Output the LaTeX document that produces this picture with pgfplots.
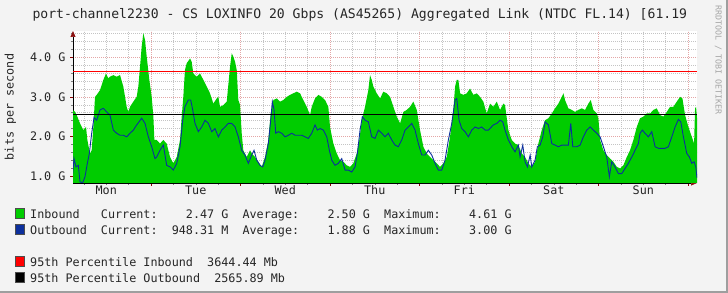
\documentclass[border=0pt]{standalone}
\usepackage{pgfplots}
\pgfplotsset{compat=1.18}
\usepackage{pgfplotstable}
\usepackage{fontspec}
\setmainfont{DejaVu Sans Mono}
\usetikzlibrary{arrows.meta}
\definecolor{bg}{HTML}{F3F3F3}
\definecolor{inb}{HTML}{00CC00}
\definecolor{outb}{HTML}{0C2F9C}
\definecolor{mgrid}{HTML}{E4A6A6}
\definecolor{ngrid}{HTML}{C4C4C4}
\definecolor{arrowred}{HTML}{8B1010}

\pgfplotstableread{
h v
3.00 2.67
3.62 2.62
4.07 2.54
4.96 2.33
5.85 2.16
6.57 2.24
6.93 1.91
7.64 1.57
8.09 1.65
8.54 2.24
8.98 3.00
9.43 3.05
10.32 3.17
11.22 3.43
11.93 3.59
12.56 3.47
13.00 3.51
13.90 3.55
14.79 3.51
15.69 3.55
16.58 3.26
17.47 2.75
17.92 2.62
18.37 2.75
19.26 2.88
20.15 3.00
20.60 3.26
21.05 3.76
21.50 4.27
21.94 4.61
22.39 4.44
22.84 4.02
23.55 3.43
24.18 3.00
24.63 2.50
24.90 1.91
25.53 1.91
26.41 1.82
27.30 1.91
28.20 1.82
28.64 1.65
29.10 1.48
29.98 1.32
30.90 1.48
31.78 1.91
32.23 2.50
32.66 3.00
33.10 3.68
33.57 3.85
34.46 3.97
34.90 3.89
35.34 3.59
36.24 3.51
37.14 3.59
38.03 3.43
38.94 3.26
39.82 3.09
40.71 2.83
41.62 2.96
42.05 3.00
42.50 2.75
43.39 2.79
44.30 2.88
45.19 3.76
45.64 4.10
46.07 4.02
46.53 3.89
46.98 3.68
47.41 2.92
47.87 2.80
48.32 2.08
48.75 1.65
49.66 1.48
50.55 1.65
51.00 1.57
51.89 1.48
52.78 1.36
53.69 1.23
54.57 1.48
55.46 1.91
56.10 2.58
56.80 2.92
57.71 2.96
58.60 2.88
59.48 2.92
60.39 3.00
61.28 3.05
62.16 3.09
63.07 3.13
63.96 3.09
64.84 2.92
65.75 2.75
66.64 2.54
67.10 2.75
67.98 2.96
68.87 3.05
69.78 3.00
70.66 2.92
71.55 2.75
72.00 2.24
72.89 1.82
73.80 1.57
74.68 1.40
75.57 1.36
76.48 1.27
77.37 1.23
78.25 1.32
79.16 1.57
79.86 1.91
80.51 2.41
81.39 2.75
82.27 3.17
82.73 3.55
83.18 3.43
83.62 3.26
84.53 3.09
85.41 2.96
86.30 3.13
87.21 3.09
88.09 3.00
88.98 2.75
89.89 2.50
90.78 2.33
91.66 2.62
92.57 2.67
93.46 2.75
94.34 2.88
95.25 2.67
96.14 2.16
97.02 1.74
97.93 1.57
98.82 1.48
99.71 1.40
100.62 1.32
101.50 1.23
102.39 1.32
103.30 1.48
104.18 1.99
105.07 2.67
105.53 3.26
105.98 3.43
106.41 3.43
106.87 3.09
107.75 3.05
108.66 3.09
109.55 3.21
110.43 3.05
111.34 3.09
112.23 3.00
113.11 2.88
114.02 2.58
114.91 2.83
115.79 2.75
116.71 2.88
117.59 2.67
118.48 2.83
118.93 2.79
119.82 2.16
120.73 1.91
121.61 1.82
122.50 1.78
123.41 1.57
124.30 1.48
125.18 1.32
126.09 1.23
126.98 1.36
127.86 1.82
128.77 2.16
129.66 2.41
130.55 2.46
131.46 2.58
132.34 2.71
133.23 2.83
134.14 3.00
134.59 3.09
135.02 2.92
135.91 2.71
136.82 2.67
137.70 2.62
138.59 2.67
139.50 2.71
140.39 2.67
141.27 2.83
141.91 2.92
142.61 2.67
143.52 2.58
143.95 2.46
144.41 1.91
145.29 1.65
146.20 1.53
147.09 1.44
147.98 1.36
148.89 1.23
149.77 1.19
150.66 1.27
151.57 1.48
152.45 1.65
153.34 1.91
154.25 2.24
155.13 2.46
156.02 2.50
156.93 2.58
157.82 2.58
158.70 2.67
159.61 2.71
160.50 2.54
161.38 2.50
162.30 2.62
163.18 2.75
164.07 2.75
164.98 2.88
165.86 3.00
166.49 2.96
167.20 2.54
168.09 2.24
169.00 1.99
169.62 1.82
169.88 2.71
170.15 2.75
170.40 2.47
}\inbound

\pgfplotstableread{
h v
3.00 1.06
3.35 1.44
3.89 1.23
4.51 1.27
4.96 0.85
5.68 0.83
6.30 0.98
6.93 1.32
7.46 1.57
8.09 2.08
8.72 2.48
9.43 2.41
10.32 2.67
11.22 2.71
12.11 2.62
13.00 2.54
13.90 2.16
14.79 2.08
15.69 2.03
16.58 2.03
17.47 1.99
18.37 2.08
19.26 2.16
20.15 2.29
21.50 2.46
22.39 2.33
23.28 1.99
24.18 1.74
25.07 1.44
25.53 1.48
26.41 1.65
27.30 1.78
28.20 1.27
29.10 1.23
29.98 1.15
30.90 1.32
31.78 1.74
32.50 2.41
33.10 2.75
34.00 2.92
34.64 2.92
35.18 2.67
35.80 2.33
36.69 2.12
37.60 2.24
38.48 2.41
39.37 2.33
40.28 2.12
41.16 2.20
42.05 1.99
42.96 2.16
43.85 2.24
44.73 2.33
45.64 2.33
46.53 2.24
47.41 1.99
48.32 1.65
49.21 1.53
50.09 1.32
51.00 1.53
51.62 1.65
52.35 1.40
53.23 1.27
53.95 1.23
54.57 1.40
55.46 1.82
56.10 2.41
56.53 2.88
56.99 2.67
57.44 2.08
58.14 2.12
59.05 2.08
59.94 1.99
60.82 2.03
61.73 2.08
62.62 2.03
63.50 2.03
64.41 2.03
65.30 1.99
66.18 1.95
67.10 2.08
67.98 2.29
68.60 2.16
69.32 2.20
70.21 2.16
71.12 1.99
71.82 1.65
72.46 1.40
73.34 1.27
74.23 1.32
75.14 1.44
76.03 1.15
76.91 1.15
77.82 1.10
78.71 1.23
79.33 1.57
80.05 2.16
80.66 2.50
81.39 2.41
82.27 2.37
83.18 1.99
84.07 1.95
84.96 2.16
85.87 2.08
86.75 1.99
87.64 2.08
88.55 1.91
89.43 1.78
90.32 1.74
91.23 1.91
92.12 2.16
93.00 2.24
93.91 2.33
94.80 2.16
95.68 1.82
96.59 1.53
97.48 1.53
98.36 1.65
99.27 1.53
100.16 1.32
101.05 1.15
101.96 1.15
102.84 1.40
103.73 1.91
104.64 2.33
105.53 2.92
105.98 2.96
106.60 2.41
107.32 2.20
108.21 2.12
109.09 1.99
110.00 2.16
110.89 2.24
111.77 2.20
112.68 2.24
113.57 2.16
114.46 2.16
115.79 2.29
116.71 2.33
117.59 2.41
118.31 2.37
118.93 2.16
119.82 1.91
120.73 1.74
121.61 1.61
122.50 1.78
122.96 1.48
123.68 1.78
124.30 1.36
124.93 1.23
125.66 1.53
126.09 1.23
126.98 1.40
127.60 1.74
128.32 1.78
129.05 1.99
129.66 2.37
130.55 2.29
131.46 1.82
132.34 1.78
133.23 1.74
134.14 1.78
135.02 1.78
135.91 1.78
136.55 2.33
137.09 1.74
138.16 1.74
139.05 1.78
139.93 1.99
140.84 2.16
141.73 2.24
142.61 2.16
143.52 2.08
144.41 1.99
145.29 1.74
146.20 1.48
146.90 0.98
147.54 1.36
148.43 1.23
149.32 1.06
150.23 1.06
151.11 1.19
152.00 1.32
152.91 1.48
153.80 1.65
154.68 1.82
155.13 2.08
155.75 2.16
156.47 2.08
157.36 1.99
158.27 2.12
159.16 1.74
160.05 1.70
160.96 1.70
161.85 1.70
162.73 1.74
163.64 1.99
164.53 2.24
165.41 2.43
166.05 2.37
166.75 1.99
167.66 1.57
168.36 1.48
169.00 1.32
169.62 1.36
170.07 1.23
170.40 0.95
}\outbound

\newcommand{\lf}{\fontsize{11.76bp}{14bp}\selectfont}

\begin{document}
\begin{tikzpicture}
\useasboundingbox (0,0) rectangle (728bp,293bp);
\clip (0,0) rectangle (728bp,293bp);
\fill[bg] (0,0) rectangle (728bp,293bp);
\draw[color=black!38, line width=2bp] (0,1bp) -- (727bp,1bp) -- (727bp,293bp);

\begin{axis}[
  at={(73bp,110bp)}, anchor=south west,
  scale only axis, width=624bp, height=152bp,
  xmin=3.08, xmax=170.4, ymin=0.823, ymax=4.665,
  axis background/.style={fill=white},
  axis x line*=bottom, axis y line*=left,
  x axis line style={line width=0.7bp, black, -{Triangle[length=6bp,width=5bp,color=arrowred]}},
  y axis line style={line width=0.7bp, black, -{Triangle[length=6bp,width=5bp,color=arrowred]}},
  xtick={24,48,72,96,120,144,168}, xticklabels={},
  minor xtick={6,12,18,30,36,42,54,60,66,78,84,90,102,108,114,126,132,138,150,156,162},
  extra x ticks={12,36,60,84,108,132,156},
  extra x tick labels={Mon,Tue,Wed,Thu,Fri,Sat,Sun},
  extra x tick style={grid=none, major tick length=0pt},
  ytick={1,2,3,4}, yticklabels={1.0 G,2.0 G,3.0 G,4.0 G},
  minor ytick={1.2,1.4,1.6,1.8,2.2,2.4,2.6,2.8,3.2,3.4,3.6,3.8,4.2,4.4,4.6},
  grid=both,
  major grid style={mgrid, dash pattern=on 1bp off 1bp, line width=0.5bp},
  minor grid style={ngrid, dash pattern=on 1bp off 1bp, line width=0.5bp},
  tick align=outside,
  major tick length=3bp, minor tick length=2bp,
  major tick style={draw=red!55!black, line width=0.5bp},
  minor tick style={draw=gray, line width=0.5bp},
  tick label style={font=\lf, text=black!85},
  xticklabel style={yshift=1bp},
  yticklabel style={xshift=-1bp},
  clip=true,
]
\addplot[draw=none, fill=inb] table[x=h, y=v] {\inbound} \closedcycle;
\addplot[outb, line width=0.9bp] table[x=h, y=v] {\outbound};
\addplot[red, line width=1bp] coordinates {(3.08,3.64444) (170.4,3.64444)};
\addplot[black, line width=1bp] coordinates {(3.08,2.56589) (170.4,2.56589)};
\end{axis}

\node[anchor=base west, inner sep=0, text=black!85] at (32.3bp,274.5bp) {\fontsize{13.1bp}{15bp}\selectfont port-channel2230 - CS LOXINFO 20 Gbps (AS45265) Aggregated Link (NTDC FL.14) [61.19};
\node[rotate=90, inner sep=0, text=black!85] at (10.5bp,186bp) {\lf bits per second};
\node[rotate=-90, inner sep=0, text=black!35] at (718.3bp,233bp) {\fontsize{8.3bp}{9bp}\selectfont RRDTOOL / TOBI OETIKER};

\filldraw[fill=inb, draw=black!70, line width=0.4bp] (15bp,74.7bp) rectangle (24bp,84.7bp);
\filldraw[fill=outb, draw=black!70, line width=0.4bp] (15bp,58.7bp) rectangle (24bp,68.7bp);
\filldraw[fill=red, draw=black!70, line width=0.4bp] (15bp,26.7bp) rectangle (24bp,36.7bp);
\filldraw[fill=black, draw=black!70, line width=0.4bp] (15bp,10.7bp) rectangle (24bp,20.7bp);

\node[anchor=base west, inner sep=0, text=black!85] at (30bp,74.7bp) {\lf Inbound\ \ \ Current:\ \ \ \ 2.47 G\ \ Average:\ \ \ \ 2.50 G\ \ Maximum:\ \ \ \ 4.61 G};
\node[anchor=base west, inner sep=0, text=black!85] at (30bp,58.7bp) {\lf Outbound\ \ Current:\ \ 948.31 M\ \ Average:\ \ \ \ 1.88 G\ \ Maximum:\ \ \ \ 3.00 G};
\node[anchor=base west, inner sep=0, text=black!85] at (30bp,26.5bp) {\lf 95th Percentile Inbound\ \ 3644.44 Mb};
\node[anchor=base west, inner sep=0, text=black!85] at (30bp,10.7bp) {\lf 95th Percentile Outbound\ \ 2565.89 Mb};
\end{tikzpicture}
\end{document}
